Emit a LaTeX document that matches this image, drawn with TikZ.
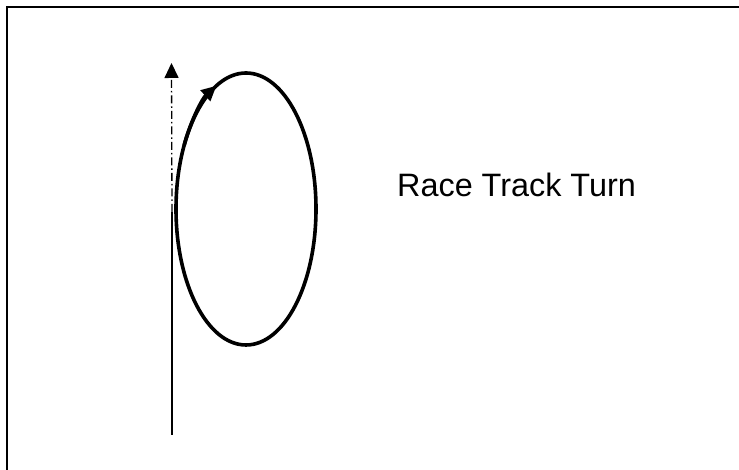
\documentclass[tikz,border=0pt]{standalone}
\usepackage{fontspec}
\setmainfont{Liberation Sans}
\usetikzlibrary{arrows.meta, calc}
\tikzset{
  frame/.style={draw=black, line width=2.5bp},
  path/.style={draw=black, line width=1.3bp},
  pathdd/.style={path, dash pattern=on 8bp off 3bp on 1.5bp off 3bp},
  track/.style={draw=black, line width=3.6bp},
  arr/.style={-{Triangle[length=15bp, width=14bp]}},
  tarr/.style={-{Triangle[length=15bp, width=14bp]}},
  ttl/.style={font=\fontsize{32.5}{38}\selectfont, inner sep=0pt},
}
\begin{document}
\begin{tikzpicture}[x=1bp, y=1bp]
  \useasboundingbox (0,0) rectangle (739,470);
  % ---------------- frame ----------------
  \draw[frame] (7,0) -- (7,463) -- (739,463);

  % ---------------- straight path ----------------
  \coordinate (start) at (172,35);
  \coordinate (split) at (172,258);
  \coordinate (goal) at (171.5,407);
  \draw[path] (start) -- (split);
  \draw[pathdd, arr] (split) -- (goal);

  % ---------------- race track turn ----------------
  \coordinate (ctr) at (246,261);
  \draw[track] (ctr) ellipse [x radius=70, y radius=136];
  \draw[track, tarr] ($(ctr)+(152:70 and 136)$) arc [start angle=152, end angle=115, x radius=70, y radius=136];

  \node[ttl, anchor=base west] (lbl) at (397,273) {Race Track Turn};
\end{tikzpicture}
\end{document}
